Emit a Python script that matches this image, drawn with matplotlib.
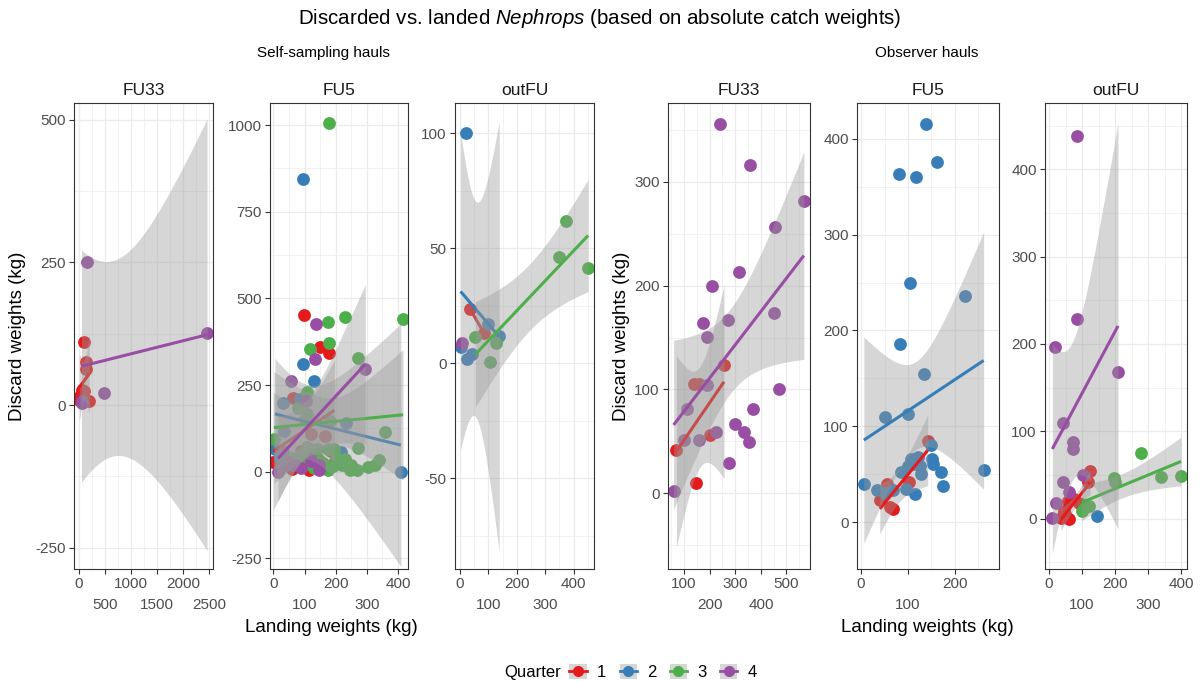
import numpy as np
import matplotlib
matplotlib.use("Agg")
import matplotlib.pyplot as plt
from matplotlib.patches import Patch
from matplotlib.lines import Line2D
from math import lgamma, exp, pi, sqrt

plt.rcParams['font.family'] = ['Liberation Sans', 'DejaVu Sans']
plt.rcParams['mathtext.fontset'] = 'custom'
plt.rcParams['mathtext.rm'] = 'Liberation Sans'
plt.rcParams['mathtext.it'] = 'Liberation Sans:italic'

# ---------------- data: landing (x) and discard (y) weights in kg ----------------
# Self-sampling hauls, FU33
ss_fu33_q1_land = [6, 25, 51, 89, 102, 134, 134, 198]
ss_fu33_q1_disc = [9, 16, 27, 111, 24, 76, 63, 8]
ss_fu33_q4_land = [50, 58, 154, 487, 2461]
ss_fu33_q4_disc = [3, 8, 250, 21, 126]

# Self-sampling hauls, FU5
ss_fu5_q1_land = [0, 20, 59, 113, 196, 165, 64, 99, 149, 178, 185, 140, 90, 40, 120]
ss_fu5_q1_disc = [28, 14, 9, 5, 24, 104, 212, 453, 359, 341, 60, 40, 60, 40, 110]
ss_fu5_q2_land = [95, 95, 130, 86, 30, 234, 33, 5, 217, 75, 113, 409, 60, 100, 140, 20,
                  45]
ss_fu5_q2_disc = [844, 310, 262, 209, 197, 140, 118, 64, 57, 38, 42, 0, 20, 30, 25, 40,
                  35]
ss_fu5_q3_land = [178, 175, 229, 416, 119, 178, 108, 270, 78, 108, 102, 182, 357, 2, 108,
                  141, 174, 196, 272, 231, 338, 305, 327, 245, 267, 97, 174, 150, 60, 220,
                  130, 90, 200, 190, 250, 160]
ss_fu5_q3_disc = [1006, 433, 447, 442, 354, 371, 231, 327, 183, 166, 151, 146, 113, 94, 70,
                  66, 66, 66, 68, 36, 33, 14, 19, 5, 5, 19, 5, 30, 40, 20,
                  10, 50, 40, 15, 20, 25]
ss_fu5_q4_land = [138, 135, 57, 295, 106, 146, 146, 20, 15, 40, 70, 30, 90, 120]
ss_fu5_q4_disc = [427, 325, 262, 295, 203, 19, 5, 9, 0, 30, 20, 60, 10, 30]

# Self-sampling hauls, outside functional units
ss_out_q1_land = [35, 85]
ss_out_q1_disc = [23.7, 13]
ss_out_q2_land = [21, 100, 138, 2, 24, 41]
ss_out_q2_disc = [100, 17, 12, 7, 2, 4]
ss_out_q3_land = [374, 350, 451, 54, 125, 104]
ss_out_q3_disc = [62, 46, 41.5, 11.5, 9, 0.7]
ss_out_q4_land = [8]
ss_out_q4_disc = [9]

# Observer hauls, FU33
ob_fu33_q1_land = [256, 139, 159, 201, 70, 148]
ob_fu33_q1_disc = [124, 105, 105, 56, 42, 10]
ob_fu33_q4_land = [240, 356, 568, 457, 316, 210, 175, 270, 450, 188, 190, 470, 113, 371,
                   299, 335, 352, 225, 158, 100, 276, 59]
ob_fu33_q4_disc = [356, 316, 282, 257, 213, 200, 164, 167, 174, 151, 104, 100, 81, 81,
                   67, 59, 49, 59, 51, 51, 29, 2]

# Observer hauls, FU5
ob_fu5_q1_land = [142, 55, 103, 40, 61, 68]
ob_fu5_q1_disc = [85, 40, 42, 23, 16, 14]
ob_fu5_q2_land = [138, 161, 81, 116, 104, 221, 84, 134, 50, 99, 261, 6, 149, 107, 121,
                  114, 125, 100, 151, 153, 170, 175, 128, 86, 96, 114, 33, 68, 50]
ob_fu5_q2_disc = [416, 376, 363, 360, 250, 236, 186, 155, 110, 113, 54, 40, 80, 66, 68,
                  61, 59, 59, 66, 61, 52, 38, 50, 52, 35, 29, 33, 33, 30]

# Observer hauls, outside functional units
ob_out_q1_land = [125, 117, 57, 77, 92, 107, 36, 52, 62, 46]
ob_out_q1_disc = [55, 42, 20, 22, 18, 16, 1, 3, 0, 9]
ob_out_q2_land = [145]
ob_out_q2_disc = [3]
ob_out_q3_land = [99, 105, 122, 196, 200, 279, 339, 400]
ob_out_q3_disc = [9, 12, 15, 46, 42, 75, 48, 49]
ob_out_q4_land = [84, 86, 18, 209, 41, 72, 72, 103, 41, 59, 21, 10]
ob_out_q4_disc = [438, 229, 196, 168, 109, 88, 80, 50, 42, 31, 18, 1]

quarters = ["1", "2", "3", "4"]
quarter_colors = ["#E41A1C", "#377EB8", "#4DAF4A", "#984EA3"]
facet_labels = ["FU33", "FU5", "outFU"]
group_labels = ["Self-sampling hauls", "Observer hauls"]

# ---------------- helpers ----------------
def t_quantile_975(df):
    """Two-sided 95% Student-t critical value by bisection on a numeric CDF."""
    c = exp(lgamma((df + 1) / 2) - lgamma(df / 2)) / sqrt(df * pi)

    def cdf(t):
        xs = np.linspace(0.0, t, 6001)
        return 0.5 + np.trapezoid(c * (1 + xs ** 2 / df) ** (-(df + 1) / 2), xs)

    lo, hi = 0.0, 60.0
    for _ in range(70):
        mid = 0.5 * (lo + hi)
        if cdf(mid) < 0.975:
            lo = mid
        else:
            hi = mid
    return 0.5 * (lo + hi)


def linear_smooth(x, y, n=80):
    x = np.asarray(x, float)
    y = np.asarray(y, float)
    slope, icpt = np.polyfit(x, y, 1)
    xs = np.linspace(x.min(), x.max(), n)
    fit = icpt + slope * xs
    if len(x) <= 2:
        return xs, fit, None, None
    resid = y - (icpt + slope * x)
    s2 = np.sum(resid ** 2) / (len(x) - 2)
    sxx = np.sum((x - x.mean()) ** 2)
    se = np.sqrt(s2 * (1 / len(x) + (xs - x.mean()) ** 2 / sxx))
    t = t_quantile_975(len(x) - 2)
    return xs, fit, fit - t * se, fit + t * se


def minor_breaks(major, lim):
    step = major[1] - major[0]
    cand = np.arange(major[0] - 10 * step, major[-1] + 10 * step, step) + step / 2
    return [v for v in cand if lim[0] <= v <= lim[1]]


W, H = 1201, 681
fig = plt.figure(figsize=(W / 100, H / 100), dpi=100)


def px_axes(left, right, top, bottom):
    return fig.add_axes([left / W, 1 - bottom / H, (right - left) / W, (bottom - top) / H])


TICK_LEN = 3.5
TICK_PAD = 2.5
ROW_GAP = 15.0  # points between the two rows of x tick labels


def draw_panel(ax, groups, xlim, ylim, xticks, yticks, title):
    for q, (x, y) in groups.items():
        ax.scatter(x, y, s=85, color=quarter_colors[q], linewidths=0, zorder=2)
    for q, (x, y) in groups.items():
        if len(x) < 2:
            continue
        xs, fit, lo, hi = linear_smooth(x, y)
        if lo is not None:
            ax.fill_between(xs, lo, hi, color="#999999", alpha=0.4, linewidth=0, zorder=3)
        ax.plot(xs, fit, color=quarter_colors[q], linewidth=2.2, zorder=3,
                solid_capstyle="butt")
    ax.set_xlim(*xlim)
    ax.set_ylim(*ylim)

    # x labels alternate between two rows
    ax.set_xticks(xticks)
    ax.set_xticklabels([f"{v:g}" if i % 2 == 0 else "" for i, v in enumerate(xticks)])
    row2 = [v for i, v in enumerate(xticks) if i % 2 == 1]
    sec = ax.secondary_xaxis("bottom")
    sec.set_xticks(row2)
    sec.set_xticklabels([f"{v:g}" for v in row2])
    sec.tick_params(length=0, labelsize=11, labelcolor="#4D4D4D",
                    pad=TICK_LEN + TICK_PAD + ROW_GAP)
    sec.spines["bottom"].set_visible(False)

    ax.set_yticks(yticks)
    ax.set_yticklabels([f"{v:g}" for v in yticks])
    ax.set_xticks(minor_breaks(xticks, xlim), minor=True)
    ax.set_yticks(minor_breaks(yticks, ylim), minor=True)
    ax.grid(which="major", color="#EBEBEB", linewidth=0.9)
    ax.grid(which="minor", color="#EBEBEB", linewidth=0.45)
    ax.set_axisbelow(True)
    ax.tick_params(which="major", length=TICK_LEN, width=0.8, color="#333333",
                   labelsize=11, labelcolor="#4D4D4D", pad=TICK_PAD)
    ax.tick_params(which="minor", length=0)
    for sp in ax.spines.values():
        sp.set_color("#333333")
        sp.set_linewidth(0.8)
    ax.set_title(title, fontsize=12.5, color="#1A1A1A", pad=6)


top, bottom = 103, 569
panels = [
    dict(pos=(74, 213), groups={0: (ss_fu33_q1_land, ss_fu33_q1_disc),
                                 3: (ss_fu33_q4_land, ss_fu33_q4_disc)},
         xlim=(-95, 2575), ylim=(-287, 529),
         xticks=[0, 500, 1000, 1500, 2000, 2500], yticks=[-250, 0, 250, 500],
         title=facet_labels[0]),
    dict(pos=(270, 408), groups={0: (ss_fu5_q1_land, ss_fu5_q1_disc),
                                  1: (ss_fu5_q2_land, ss_fu5_q2_disc),
                                  2: (ss_fu5_q3_land, ss_fu5_q3_disc),
                                  3: (ss_fu5_q4_land, ss_fu5_q4_disc)},
         xlim=(-10.7, 432), ylim=(-281, 1064),
         xticks=[0, 100, 200, 300, 400], yticks=[-250, 0, 250, 500, 750, 1000],
         title=facet_labels[1]),
    dict(pos=(455, 594), groups={0: (ss_out_q1_land, ss_out_q1_disc),
                                  1: (ss_out_q2_land, ss_out_q2_disc),
                                  2: (ss_out_q3_land, ss_out_q3_disc),
                                  3: (ss_out_q4_land, ss_out_q4_disc)},
         xlim=(-17.7, 472), ylim=(-89.5, 113.2),
         xticks=[0, 100, 200, 300, 400], yticks=[-50, 0, 50, 100],
         title=facet_labels[2]),
    dict(pos=(668, 810), groups={0: (ob_fu33_q1_land, ob_fu33_q1_disc),
                                  3: (ob_fu33_q4_land, ob_fu33_q4_disc)},
         xlim=(37, 592), ylim=(-73, 376),
         xticks=[100, 200, 300, 400, 500], yticks=[0, 100, 200, 300],
         title=facet_labels[0]),
    dict(pos=(857, 999), groups={0: (ob_fu5_q1_land, ob_fu5_q1_disc),
                                  1: (ob_fu5_q2_land, ob_fu5_q2_disc)},
         xlim=(-8.6, 293.7), ylim=(-49, 437.5),
         xticks=[0, 100, 200], yticks=[0, 100, 200, 300, 400],
         title=facet_labels[1]),
    dict(pos=(1045, 1187), groups={0: (ob_out_q1_land, ob_out_q1_disc),
                                    1: (ob_out_q2_land, ob_out_q2_disc),
                                    2: (ob_out_q3_land, ob_out_q3_disc),
                                    3: (ob_out_q4_land, ob_out_q4_disc)},
         xlim=(-12.2, 418), ylim=(-57.7, 476),
         xticks=[0, 100, 200, 300, 400], yticks=[0, 100, 200, 300, 400],
         title=facet_labels[2]),
]

for p in panels:
    ax = px_axes(p["pos"][0], p["pos"][1], top, bottom)
    draw_panel(ax, p["groups"], p["xlim"], p["ylim"], p["xticks"], p["yticks"], p["title"])

# ---------------- titles and axis labels ----------------
fig.text(600 / W, 1 - 19 / H,
         r"Discarded vs. landed $\it{Nephrops}$ (based on absolute catch weights)",
         ha="center", va="center", fontsize=14.8, color="black")
fig.text(323 / W, 1 - 53 / H, group_labels[0], ha="center", va="center", fontsize=11)
fig.text(927 / W, 1 - 53 / H, group_labels[1], ha="center", va="center", fontsize=11)

mid_y = 1 - ((top + bottom) / 2) / H
for xp in (18, 621):
    fig.text(xp / W, mid_y, "Discard weights (kg)", rotation=90, ha="center",
             va="center", fontsize=13.5)
for xp in (331, 927):
    fig.text(xp / W, 1 - 627 / H, "Landing weights (kg)", ha="center", va="center",
             fontsize=13.5)

# ---------------- legend ----------------
fig.text(533 / W, 1 - 672 / H, "Quarter", ha="center", va="center", fontsize=12)
handles = [(Patch(facecolor="#D6D6D6", edgecolor="none"),
            Line2D([], [], color=c, linewidth=2, marker="o", markersize=8,
                   markeredgewidth=0))
           for c in quarter_colors]
fig.legend(handles, quarters, ncol=4, loc="center", bbox_to_anchor=(663 / W, 1 - 672 / H),
           frameon=False, fontsize=12, handlelength=1.05, handleheight=1.05,
           handletextpad=0.6, columnspacing=0.8, borderpad=0, borderaxespad=0)

fig.savefig("out.png", dpi=100)
